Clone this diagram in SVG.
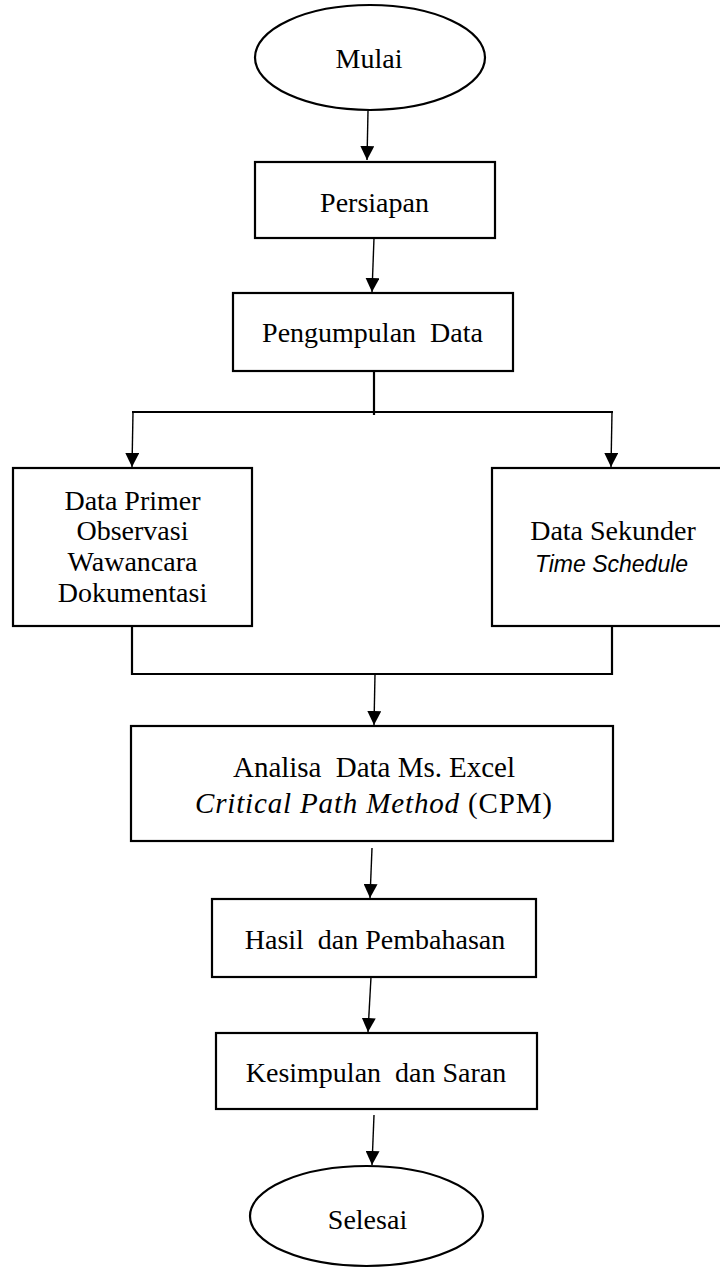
<svg xmlns="http://www.w3.org/2000/svg" width="720" height="1268" viewBox="0 0 720 1268">
<style>
.shape{fill:#fff;stroke:#000;stroke-width:2.2}
.t{font-family:"Liberation Serif","Times New Roman",serif;font-size:28px;fill:#000;text-anchor:middle;white-space:pre}
.ti{font-family:"Liberation Sans",Arial,sans-serif;font-style:italic;font-size:23px;fill:#000;text-anchor:middle}
.arr{fill:none;stroke:#000;stroke-width:1.4;marker-end:url(#ah)}
.ln{fill:none;stroke:#000;stroke-width:2.2}
</style>
<defs>
<marker id="ah" markerUnits="userSpaceOnUse" markerWidth="14" markerHeight="14" refX="14" refY="7" orient="auto">
<path d="M0,0 L14,7 L0,14 Z" fill="#000"/>
</marker>
</defs>
<rect width="720" height="1268" fill="#fff"/>
<g id="connectors">
<path class="arr" d="M368,111 L367,160"/>
<path class="arr" d="M374,238 L372,292"/>
<path class="ln" d="M374,371 L374,415"/>
<path class="ln" d="M132,412 L613,412"/>
<path class="arr" d="M133,412 L132,467"/>
<path class="arr" d="M612,412 L611,467"/>
<path class="ln" d="M132,626 L132,675"/>
<path class="ln" d="M612,626 L612,675"/>
<path class="ln" d="M131,674 L613,674"/>
<path class="arr" d="M375,674 L374,725"/>
<path class="arr" d="M372,848 L370,898"/>
<path class="arr" d="M371,977 L368,1032"/>
<path class="arr" d="M374,1115 L372,1165"/>
</g>
<g id="mulai">
<ellipse class="shape" cx="370" cy="57.5" rx="115" ry="52.5"/>
<text class="t" x="369" y="68">Mulai</text>
</g>
<g id="persiapan">
<rect class="shape" x="255" y="162" width="240" height="76"/>
<text class="t" x="374.5" y="212">Persiapan</text>
</g>
<g id="pengumpulan">
<rect class="shape" x="233" y="293" width="280" height="78"/>
<text class="t" x="372.5" y="342">Pengumpulan  Data</text>
</g>
<g id="data-primer">
<rect class="shape" x="13" y="468" width="239" height="158"/>
<text class="t" x="132.5" y="510">Data Primer</text>
<text class="t" x="132.5" y="540">Observasi</text>
<text class="t" x="132.5" y="571">Wawancara</text>
<text class="t" x="132.5" y="602">Dokumentasi</text>
</g>
<g id="data-sekunder">
<rect class="shape" x="492" y="468" width="232" height="158"/>
<text class="t" x="613" y="540">Data Sekunder</text>
<text class="ti" x="611.5" y="572">Time Schedule</text>
</g>
<g id="analisa">
<rect class="shape" x="131" y="726" width="482" height="115"/>
<text class="t" x="374" y="777" style="font-size:29px" textLength="282">Analisa  Data Ms. Excel</text>
<text class="t" x="373.5" y="813" style="font-size:29px" textLength="357"><tspan font-style="italic">Critical Path Method</tspan> (CPM)</text>
</g>
<g id="hasil">
<rect class="shape" x="212" y="899" width="324" height="78"/>
<text class="t" x="375" y="949">Hasil  dan Pembahasan</text>
</g>
<g id="kesimpulan">
<rect class="shape" x="216" y="1033" width="321" height="76"/>
<text class="t" x="376" y="1082">Kesimpulan  dan Saran</text>
</g>
<g id="selesai">
<ellipse class="shape" cx="366.5" cy="1216" rx="116.5" ry="50"/>
<text class="t" x="367.5" y="1229">Selesai</text>
</g>
</svg>
